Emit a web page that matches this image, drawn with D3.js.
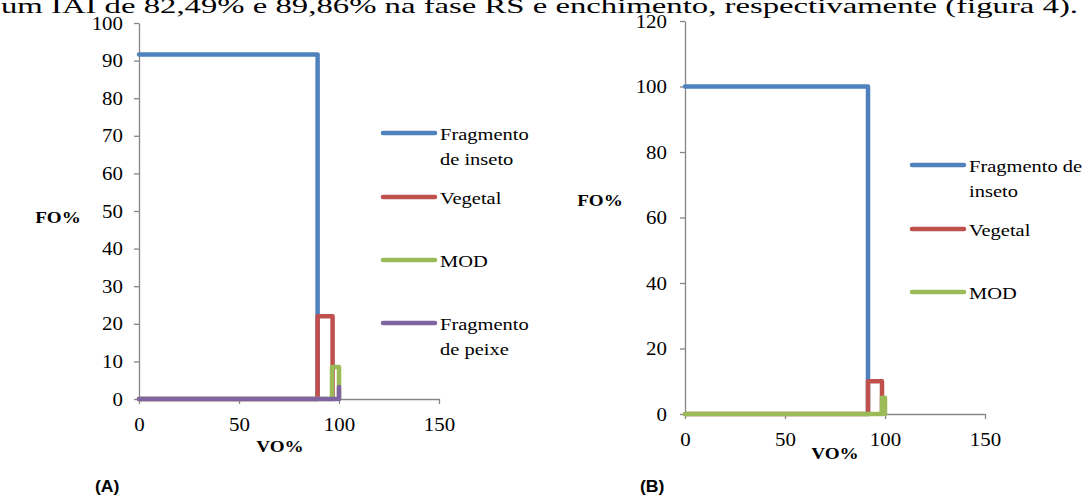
<!DOCTYPE html>
<html><head><meta charset="utf-8">
<script src="https://cdn.jsdelivr.net/npm/d3@7"></script>
<style>body{margin:0;background:#fff}svg{display:block}
.serif{font-family:"Liberation Serif","Times New Roman",Times,serif}
.sans{font-family:"Liberation Sans",Arial,sans-serif}
</style>
</head><body>
<svg id="c" width="1091" height="496"></svg>
<script>
// Panel A data
const seriesA = ["Fragmento de inseto", "Vegetal", "MOD", "Fragmento de peixe"];
const legendA = [["Fragmento", "de inseto"], ["Vegetal"], ["MOD"], ["Fragmento", "de peixe"]];
const foA = [91.6, 22, 8.5, 3.2];
const voStartA = [0, 89.3, 96.5, 100];
const voEndA = [89.3, 96.8, 100, 100];
const yTicksA = [0, 10, 20, 30, 40, 50, 60, 70, 80, 90, 100];
// Panel B data
const seriesB = ["Fragmento de inseto", "Vegetal", "MOD"];
const legendB = [["Fragmento de", "inseto"], ["Vegetal"], ["MOD"]];
const foB = [100, 10, 5];
const voStartB = [0, 91.5, 98.5];
const voEndB = [91.5, 98.5, 100];
const yTicksB = [0, 20, 40, 60, 80, 100, 120];
const xTicks = [0, 50, 100, 150];
const colors = ["#4F81BD", "#C0504D", "#9BBB59", "#8064A2"];
const topText = "um IAI de 82,49% e 89,86% na fase RS e enchimento, respectivamente (figura 4).";

const svg = d3.select("#c");

svg.append("text").attr("class", "serif").attr("x", 1).attr("y", 13)
  .attr("font-size", 22).attr("textLength", 1077).attr("lengthAdjust", "spacingAndGlyphs")
  .attr("fill", "#000").text(topText);

// stretched text helper
function stext(parent, x, y, str, size, sx, opts = {}) {
  return parent.append("text").attr("class", opts.cls || "serif")
    .attr("transform", `translate(${x},${y}) scale(${sx},1)`)
    .attr("font-size", size).attr("font-weight", opts.bold ? "bold" : null)
    .attr("text-anchor", opts.anchor || "start").attr("fill", "#000").text(str);
}

function panel(cfg) {
  const x = d3.scaleLinear().domain([0, 150]).range([cfg.x0, cfg.x0 + 300]);
  const y = d3.scaleLinear().domain([0, cfg.ymax]).range([cfg.y0, cfg.y1]);
  const g = svg.append("g");
  const tsx = 1.1;
  const ya = g.append("g").attr("transform", `translate(${cfg.x0},0)`)
    .call(d3.axisLeft(y).tickValues(cfg.yTicks).tickSize(5).tickSizeOuter(0).tickPadding(cfg.ypad));
  const xa = g.append("g").attr("transform", `translate(0,${cfg.y0})`)
    .call(d3.axisBottom(x).tickValues(xTicks).tickSize(5).tickSizeOuter(0).tickPadding(14));
  [ya, xa].forEach(a => {
    a.attr("font-family", null);
    a.select(".domain").attr("stroke", "#868686").attr("stroke-width", 1.3);
    a.selectAll(".tick line").attr("stroke", "#868686").attr("stroke-width", 1.3);
    a.selectAll(".tick text").attr("class", "serif").attr("font-size", 19).attr("fill", "#000")
      .each(function () {
        const t = d3.select(this);
        const tx = +(t.attr("x") || 0);
        t.attr("x", tx / tsx).attr("transform", `scale(${tsx},1)`);
      });
  });
  const line = d3.line().x(d => x(d[0])).y(d => y(d[1]));
  cfg.fo.forEach((fo, i) => {
    let pts;
    if (i === 0) pts = [[cfg.vs[i], fo], [cfg.ve[i], fo], [cfg.ve[i], 0]];
    else if (cfg.vs[i] === cfg.ve[i]) pts = [[0, 0], [cfg.vs[i], 0], [cfg.vs[i], fo]];
    else pts = [[0, 0], [cfg.vs[i], 0], [cfg.vs[i], fo], [cfg.ve[i], fo], [cfg.ve[i], 0]];
    g.append("path").attr("d", line(pts)).attr("fill", "none")
      .attr("stroke", colors[i]).attr("stroke-width", 4.5)
      .attr("stroke-linejoin", "round").attr("stroke-linecap", "round");
  });
  stext(g, cfg.foX, cfg.foY, "FO%", 16.5, 1.16, {bold: true, anchor: "middle"});
  stext(g, cfg.voX, cfg.voY, "VO%", 16.5, 1.16, {bold: true, anchor: "middle"});
  cfg.legend.forEach((lines, i) => {
    const ly = cfg.legY[i];
    g.append("line").attr("x1", cfg.legX).attr("x2", cfg.legX + 52).attr("y1", ly).attr("y2", ly)
      .attr("stroke", colors[i]).attr("stroke-width", 4.5).attr("stroke-linecap", "round");
    lines.forEach((t, k) => stext(g, cfg.legX + 57, ly + 7 + k * 25, t, 17.5, 1.17));
  });
  stext(g, cfg.labX, 492, cfg.label, 16, 1.1, {cls: "sans", bold: true});
}

panel({x0: 139, y0: 399, y1: 23, ymax: 100, yTicks: yTicksA, fo: foA, vs: voStartA, ve: voEndA, ypad: 11,
  foX: 58, foY: 223, voX: 280, voY: 452, legend: legendA, legX: 383, legY: [133, 197, 260, 323], labX: 95, label: "(A)"});
panel({x0: 685, y0: 414, y1: 21, ymax: 120, yTicks: yTicksB, fo: foB, vs: voStartB, ve: voEndB, ypad: 13,
  foX: 600, foY: 206, voX: 835, voY: 459, legend: legendB, legX: 912, legY: [165, 229, 292], labX: 640, label: "(B)"});
</script>
</body></html>
